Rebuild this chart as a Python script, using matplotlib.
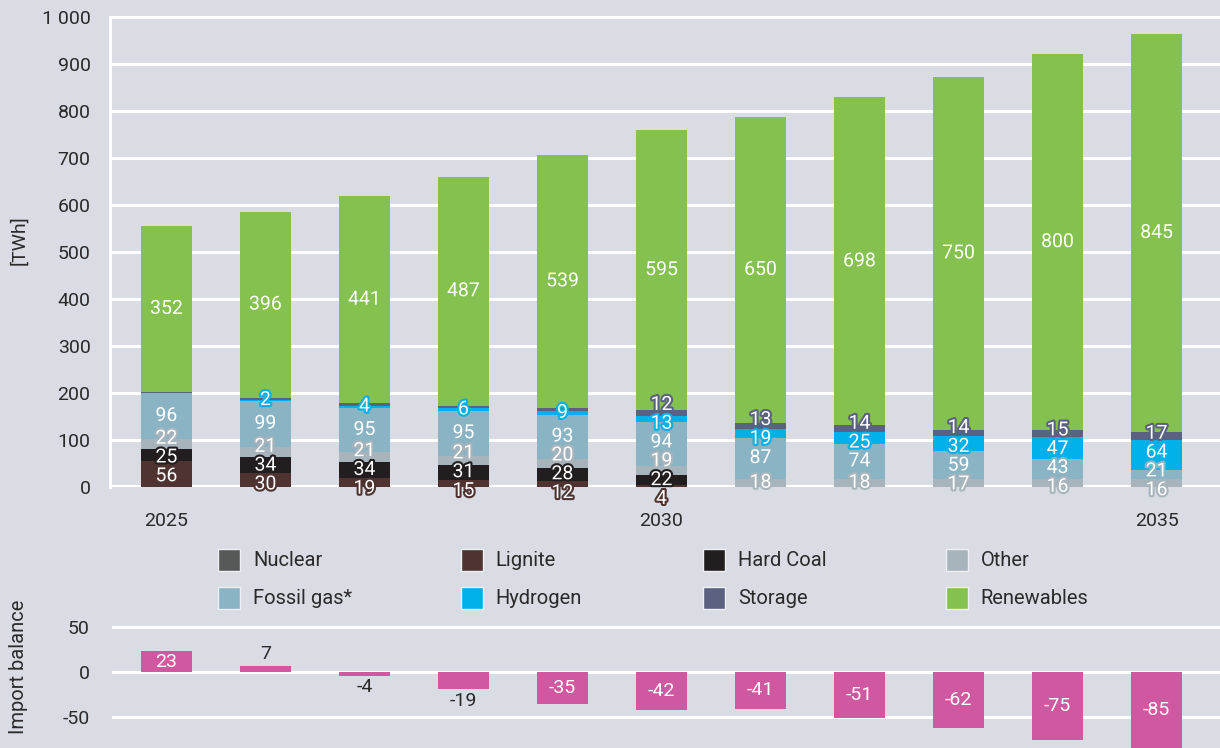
import matplotlib
matplotlib.use("Agg")
import matplotlib.pyplot as plt
import matplotlib.patheffects as pe
from matplotlib.patches import Rectangle
import numpy as np

plt.rcParams['font.family'] = ['Roboto', 'DejaVu Sans']
plt.rcParams['axes.unicode_minus'] = False

years = [2025, 2026, 2027, 2028, 2029, 2030, 2031, 2032, 2033, 2034, 2035]
series_names = ["Nuclear", "Lignite", "Hard Coal", "Other", "Fossil gas*", "Hydrogen", "Storage", "Renewables"]
nuclear    = [0, 0, 0, 0, 0, 0, 0, 0, 0, 0, 0]
lignite    = [56, 30, 19, 15, 12, 4, 0, 0, 0, 0, 0]
hard_coal  = [25, 34, 34, 31, 28, 22, 0, 0, 0, 0, 0]
other      = [22, 21, 21, 21, 20, 19, 18, 18, 17, 16, 16]
fossil_gas = [96, 99, 95, 95, 93, 94, 87, 74, 59, 43, 21]
hydrogen   = [0, 2, 4, 6, 9, 13, 19, 25, 32, 47, 64]
storage    = [4, 4, 5, 5, 6, 12, 13, 14, 14, 15, 17]
renewables = [352, 396, 441, 487, 539, 595, 650, 698, 750, 800, 845]
import_balance = [23, 7, -4, -19, -35, -42, -41, -51, -62, -75, -85]
xtick_labels = {0: "2025", 5: "2030", 10: "2035"}

colors = ["#555a58", "#4e3330", "#221e1f", "#a8b4bc", "#8ab3c4", "#00b0e8", "#5b6180", "#84c14e"]
min_label = [1, 1, 1, 1, 1, 1, 10, 1]
import_color = "#d058a0"
bg = "#d9dce3"
txt = "#2a2a2a"
FS = 14

data = [nuclear, lignite, hard_coal, other, fossil_gas, hydrogen, storage, renewables]

W, H = 1220, 748
fig = plt.figure(figsize=(W / 100, H / 100), dpi=100, facecolor=bg)

# ---- top chart
ylim_top = 1010
px_per = 0.47
ax_top_px = 487 - ylim_top * px_per
ax = fig.add_axes([110 / W, (H - 487) / H, 1 - 110 / W, (487 - ax_top_px) / H])
ax.set_facecolor(bg)
x = np.arange(len(years))
bw = 0.515
bottoms = np.zeros(len(years))
segs = []
for vals, col in zip(data, colors):
    v = np.array(vals, dtype=float)
    ax.bar(x, v, bw, bottom=bottoms, color=col, zorder=3, linewidth=0)
    segs.append((bottoms.copy(), v))
    bottoms += v

ax.set_xlim(-0.57, 10.64)
ax.set_ylim(0, ylim_top)
ax.set_yticks(range(0, 1001, 100))
ax.set_yticklabels(["1 000" if t == 1000 else str(t) for t in range(0, 1001, 100)])
ax.grid(axis='y', color='white', linewidth=2.2, zorder=1)
ax.set_xticks(list(xtick_labels.keys()))
ax.set_xticklabels(list(xtick_labels.values()))
ax.tick_params(axis='both', length=0, labelsize=FS, labelcolor=txt)
ax.tick_params(axis='x', pad=18)
ax.tick_params(axis='y', pad=14)
for s in ['top', 'right', 'bottom']:
    ax.spines[s].set_visible(False)
ax.spines['left'].set_color('white')
ax.spines['left'].set_linewidth(2.2)
ax.spines['left'].set_bounds(0, 1000)
ax.axhline(0, color='white', linewidth=3, zorder=2)
ax.set_ylabel("[TWh]", fontsize=FS, color=txt)
ax.yaxis.set_label_coords(-82 / (W - 110), 0.52)


def spread(centers, sep):
    clusters = []
    for c in centers:
        clusters.append([c])
        while len(clusters) > 1:
            a, b = clusters[-2], clusters[-1]
            top_a = np.mean(a) + (len(a) - 1) / 2 * sep
            bot_b = np.mean(b) - (len(b) - 1) / 2 * sep
            if bot_b - top_a < sep:
                clusters[-2:] = [a + b]
            else:
                break
    out = []
    for cl in clusters:
        m = np.mean(cl)
        n = len(cl)
        out += [m + (k - (n - 1) / 2) * sep for k in range(n)]
    return out

for i in range(len(years)):
    items = []
    for j, (b, v) in enumerate(segs):
        if v[i] >= min_label[j]:
            items.append((b[i] + v[i] / 2, int(v[i]), colors[j]))
    pos = spread([it[0] for it in items], 40)
    for (c, val, col), y in zip(items, pos):
        ax.text(x[i], y, str(val), ha='center', va='center', fontsize=FS,
                color='white', zorder=5, clip_on=False,
                path_effects=[pe.withStroke(linewidth=3, foreground=col)])

# ---- legend
for k, (name, col) in enumerate(zip(series_names, colors)):
    r, c = divmod(k, 4)
    cx = 218 + c * 242.5
    cy = 560 + r * 38
    fig.add_artist(Rectangle((cx / W, (H - cy - 11) / H), 22 / W, 22 / H,
                             transform=fig.transFigure, facecolor=col,
                             edgecolor='#eef0f3', linewidth=1))
    fig.text((cx + 35) / W, (H - cy) / H, name, ha='left', va='center',
             fontsize=14.5, color=txt)

# ---- bottom chart
px_b = 0.9
ylo, yhi = -(748 - 672) / px_b, 57
ax2_h = (yhi - ylo) * px_b
ax2 = fig.add_axes([112 / W, 0, 1 - 112 / W, ax2_h / H])
ax2.set_facecolor(bg)
ax2.set_xlim(-0.57 + (2 / 99), 10.64)
ax2.set_ylim(ylo, yhi)
ax2.bar(x, import_balance, bw, color=import_color, zorder=3, linewidth=0)
ax2.set_yticks([-50, 0, 50])
ax2.grid(axis='y', color='white', linewidth=2.2, zorder=1)
ax2.set_xticks([])
ax2.tick_params(axis='y', length=0, labelsize=FS, labelcolor=txt, pad=16)
for s in ax2.spines.values():
    s.set_visible(False)
ax2.set_ylabel("Import balance", fontsize=14.5, color=txt)
ax2.yaxis.set_label_coords(-84 / (W - 112), (748 - 667) / ax2_h)
for i, v in enumerate(import_balance):
    if abs(v) >= 20:
        yc = v / 2 if v > 0 else max(v, ylo) / 2
        ax2.text(x[i], yc, str(v), ha='center', va='center', fontsize=FS,
                 color='white', zorder=5)
    else:
        ax2.text(x[i], v + (3 if v >= 0 else -3), str(v), ha='center',
                 va='bottom' if v >= 0 else 'top', fontsize=FS, color=txt, zorder=5)

fig.savefig("out.png", dpi=100, facecolor=bg)
